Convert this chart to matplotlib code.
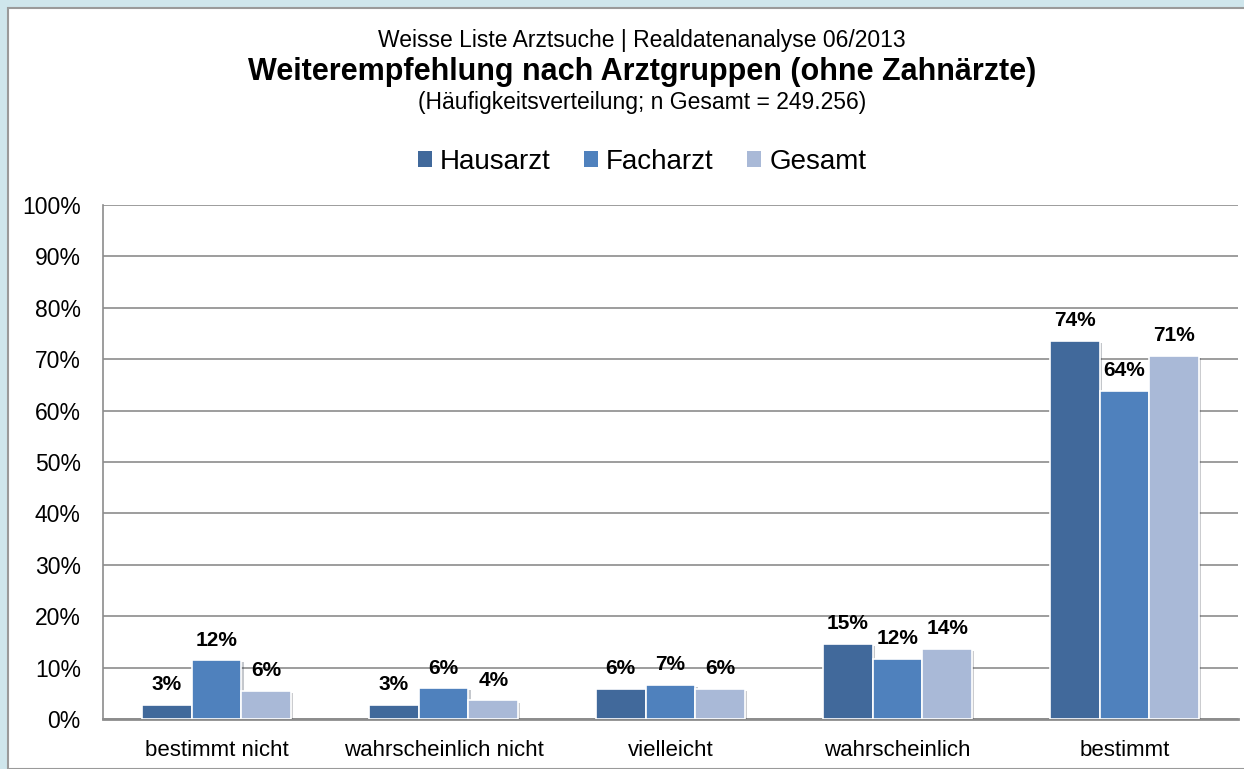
import numpy as np
import matplotlib.pyplot as plt
from matplotlib.patches import Rectangle, Patch
import matplotlib.patheffects as pe

# data
categories = ["bestimmt nicht", "wahrscheinlich nicht", "vielleicht", "wahrscheinlich", "bestimmt"]
hausarzt = [2.7, 2.8, 5.9, 14.6, 73.6]
facharzt = [11.4, 6.0, 6.6, 11.7, 63.9]
gesamt = [5.5, 3.6, 5.9, 13.7, 70.6]
hausarzt_labels = ["3%", "3%", "6%", "15%", "74%"]
facharzt_labels = ["12%", "6%", "7%", "12%", "64%"]
gesamt_labels = ["6%", "4%", "6%", "14%", "71%"]
yticks = list(range(0, 101, 10))

plt.rcParams['font.family'] = ['Liberation Sans', 'DejaVu Sans']

fig = plt.figure(figsize=(12.44, 7.69), dpi=100)
fig.patch.set_facecolor('#cfe6ec')

# white panel behind the chart
panel = Rectangle((8 / 1244, 0), 1.0, 1 - 8 / 769, transform=fig.transFigure,
                  facecolor='white', edgecolor='#9a9a9a', linewidth=1.5, zorder=-5)
fig.patches.append(panel)

ax = fig.add_axes([103 / 1244, 50 / 769, (1238 - 103) / 1244, (719 - 205) / 769])
ax.set_facecolor('none')

x = np.arange(len(categories))
w = 0.22
shadow = [pe.SimplePatchShadow(offset=(1.5, -1.5), alpha=0.25), pe.Normal()]
series = [
    (hausarzt, hausarzt_labels, '#41699b', 'Hausarzt', -w),
    (facharzt, facharzt_labels, '#4f81bd', 'Facharzt', 0),
    (gesamt, gesamt_labels, '#a9b9d7', 'Gesamt', w),
]
handles = []
for vals, labs, col, name, off in series:
    bars = ax.bar(x + off, vals, width=w, color=col, edgecolor='white', linewidth=1.2,
                  zorder=3)
    for b in bars:
        b.set_path_effects(shadow)
    for xi, v, lab in zip(x + off, vals, labs):
        ax.annotate(lab, (xi, v), xytext=(0, 14.5), textcoords='offset points',
                    ha='center', va='center', fontsize=15, fontweight='bold', zorder=4)
    handles.append(Patch(facecolor=col, label=name))

ax.set_xlim(-0.5, len(categories) - 0.5)
ax.set_ylim(0, 100)
ax.set_yticks(yticks)
ax.set_yticklabels([f"{t}%" for t in yticks], fontsize=16.5)
ax.set_xticks(x)
ax.set_xticklabels(categories, fontsize=16)
ax.tick_params(axis='x', length=0, pad=15)
ax.tick_params(axis='y', length=0, pad=16)
ax.grid(axis='y', color='#8c8c8c', linewidth=1.2, zorder=1)
ax.set_axisbelow(True)
for s in ['top', 'right']:
    ax.spines[s].set_visible(False)
ax.spines['left'].set_color('#8c8c8c')
ax.spines['left'].set_linewidth(1.2)
ax.spines['bottom'].set_color('#8c8c8c')
ax.spines['bottom'].set_linewidth(2)

# titles
cx = 642 / 1244
fig.text(cx, 1 - 40 / 769, "Weisse Liste Arztsuche | Realdatenanalyse 06/2013",
         ha='center', va='center', fontsize=16.5)
fig.text(cx, 1 - 72 / 769, "Weiterempfehlung nach Arztgruppen (ohne Zahnärzte)",
         ha='center', va='center', fontsize=22, fontweight='bold')
fig.text(cx, 1 - 103 / 769, "(Häufigkeitsverteilung; n Gesamt = 249.256)",
         ha='center', va='center', fontsize=16.5)

fig.legend(handles=handles, loc='center', bbox_to_anchor=(cx, 1 - 162 / 769), ncol=3,
           frameon=False, fontsize=20, handlelength=0.5, handleheight=0.5,
           handletextpad=0.3, columnspacing=1.2)

fig.savefig("out.png", dpi=100, facecolor=fig.get_facecolor())
